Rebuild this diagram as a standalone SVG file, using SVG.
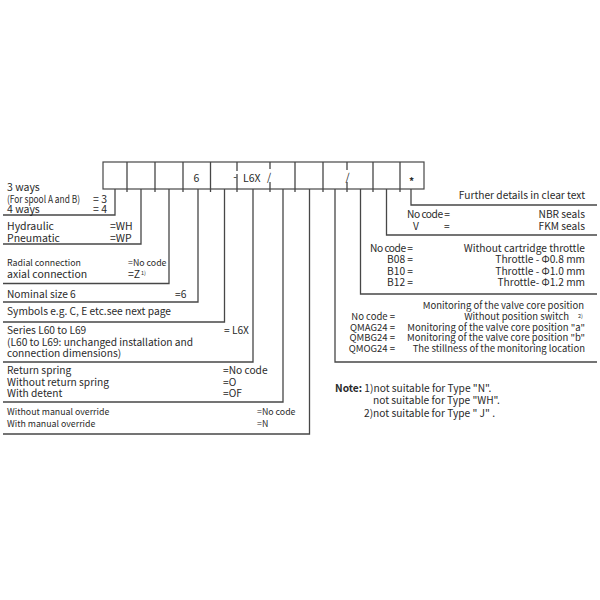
<svg xmlns="http://www.w3.org/2000/svg" width="600" height="600" viewBox="0 0 600 600">
<style>
.t{font-family:"Noto Sans CJK SC","Noto Sans",sans-serif;font-size:10.2px;fill:#2a2a2a}
.s{font-size:8.8px}
.m{font-size:9.5px}
.b{font-size:10.5px}
.e{text-anchor:end}
.sup{font-size:5.5px}
.ln{fill:none;stroke:#474747;stroke-width:1.3}
.bx{fill:#fff;stroke:#474747;stroke-width:1.2}
</style>
<rect width="600" height="600" fill="#fff"/>
<g id="code-boxes">
<rect class="bx" x="103" y="162" width="321" height="27"/>
<path class="ln" d="M127,162V192M155,162V192M183,162V192M210.5,162V192M295,162V192M323,162V192M373,162V192M400,162V192M237,162V171M237,174V192M270,162V169M270,182V192M347,162V170M347,182V192"/>
<text class="t b" x="196.5" y="181.5" text-anchor="middle">6</text>
<text class="t b" x="235" y="180" text-anchor="middle">-</text>
<text class="t b" x="243" y="181.5">L6X</text>
<text class="t b" x="269" y="181" text-anchor="middle">/</text>
<text class="t b" x="347.5" y="181" text-anchor="middle">/</text>
<text class="t" x="411.5" y="184.5" text-anchor="middle" font-size="14" font-weight="bold">*</text>
</g>
<g id="connectors">
<path class="ln" d="M115,189V215H3"/>
<path class="ln" d="M141,189V244H3"/>
<path class="ln" d="M169,189V283.5H3"/>
<path class="ln" d="M198,189V302H3"/>
<path class="ln" d="M224.5,189V322H3"/>
<path class="ln" d="M253,189V362H3"/>
<path class="ln" d="M283,189V402H3"/>
<path class="ln" d="M309.5,189V434H3"/>
<path class="ln" d="M335,189V362H597"/>
<path class="ln" d="M360.5,189V294H597"/>
<path class="ln" d="M386.5,189V235H597"/>
<path class="ln" d="M411,189V205H597"/>
</g>
<g id="ways">
<text class="t b" x="7" y="191">3 ways</text>
<text class="t" x="7" y="202.5" font-size="8.3" textLength="73" lengthAdjust="spacingAndGlyphs">(For spool A and B)</text>
<text class="t b" x="93" y="202.5">= 3</text>
<text class="t b" x="7" y="212.5">4 ways</text>
<text class="t b" x="93" y="212.5">= 4</text>
</g>
<g id="actuation">
<text class="t b" x="7" y="230">Hydraulic</text>
<text class="t b" x="110" y="230">=WH</text>
<text class="t b" x="7" y="241.5">Pneumatic</text>
<text class="t b" x="110" y="241.5">=WP</text>
</g>
<g id="connection">
<text class="t s" x="7" y="266">Radial connection</text>
<text class="t s" x="128" y="266">=No code</text>
<text class="t b" x="7" y="278">axial connection</text>
<text class="t b" x="128" y="278">=Z</text>
<text class="t sup" x="141" y="275">1)</text>
</g>
<g id="nominal-size">
<text class="t" x="7" y="298">Nominal size 6</text>
<text class="t" x="175" y="298">=6</text>
</g>
<g id="symbols">
<text class="t" x="7" y="315">Symbols e.g. C, E etc.see next page</text>
</g>
<g id="series">
<text class="t" x="7" y="334">Series L60 to L69</text>
<text class="t" x="224" y="334">= L6X</text>
<text class="t" x="7" y="345.5">(L60 to L69: unchanged installation and</text>
<text class="t" x="7" y="356.5">connection dimensions)</text>
</g>
<g id="spring">
<text class="t" x="7" y="374">Return spring</text>
<text class="t" x="223" y="374">=No code</text>
<text class="t" x="7" y="385.5">Without  return spring</text>
<text class="t" x="223" y="385.5">=O</text>
<text class="t" x="7" y="397">With detent</text>
<text class="t" x="223" y="397">=OF</text>
</g>
<g id="manual-override">
<text class="t s" x="7" y="415">Without manual override</text>
<text class="t s" x="257" y="415">=No code</text>
<text class="t s" x="7" y="427">With manual override</text>
<text class="t s" x="257" y="427">=N</text>
</g>
<g id="further-details">
<text class="t e" x="585" y="199">Further details in clear text</text>
</g>
<g id="seals">
<text class="t" x="407" y="218" textLength="43" lengthAdjust="spacing">No code =</text>
<text class="t e" x="585" y="218">NBR seals</text>
<text class="t" x="413" y="229.5">V</text>
<text class="t" x="444" y="229.5">=</text>
<text class="t e" x="585" y="229.5">FKM seals</text>
</g>
<g id="throttle">
<text class="t" x="370" y="252" textLength="43" lengthAdjust="spacing">No code =</text>
<text class="t e" x="585" y="252">Without cartridge throttle</text>
<text class="t e" x="413" y="263">B08 =</text>
<text class="t e" x="585" y="263">Throttle - Φ0.8 mm</text>
<text class="t e" x="413" y="274.5">B10 =</text>
<text class="t e" x="585" y="274.5">Throttle - Φ1.0 mm</text>
<text class="t e" x="413" y="285.5">B12 =</text>
<text class="t e" x="585" y="285.5">Throttle- Φ1.2 mm</text>
</g>
<g id="monitoring">
<text class="t m e" x="584" y="308.5">Monitoring of the valve core position</text>
<text class="t m e" x="395" y="320">No code =</text>
<text class="t m e" x="569" y="320">Without position switch</text>
<text class="t sup" x="578" y="317.5">2)</text>
<text class="t m e" x="395" y="330.5">QMAG24 =</text>
<text class="t m e" x="585" y="330.5">Monitoring of the valve core position "a"</text>
<text class="t m e" x="395" y="341">QMBG24 =</text>
<text class="t m e" x="585" y="341">Monitoring of the valve core position "b"</text>
<text class="t m e" x="395" y="352">QMOG24 =</text>
<text class="t m e" x="585" y="352">The stillness of the monitoring location</text>
</g>
<g id="note">
<text class="t" x="335" y="391.5"><tspan font-weight="bold">Note:</tspan> 1)not suitable for Type "N".</text>
<text class="t" x="373" y="404">not suitable for Type "WH".</text>
<text class="t" x="364" y="416.5">2)not suitable for Type " J" .</text>
</g>
</svg>
